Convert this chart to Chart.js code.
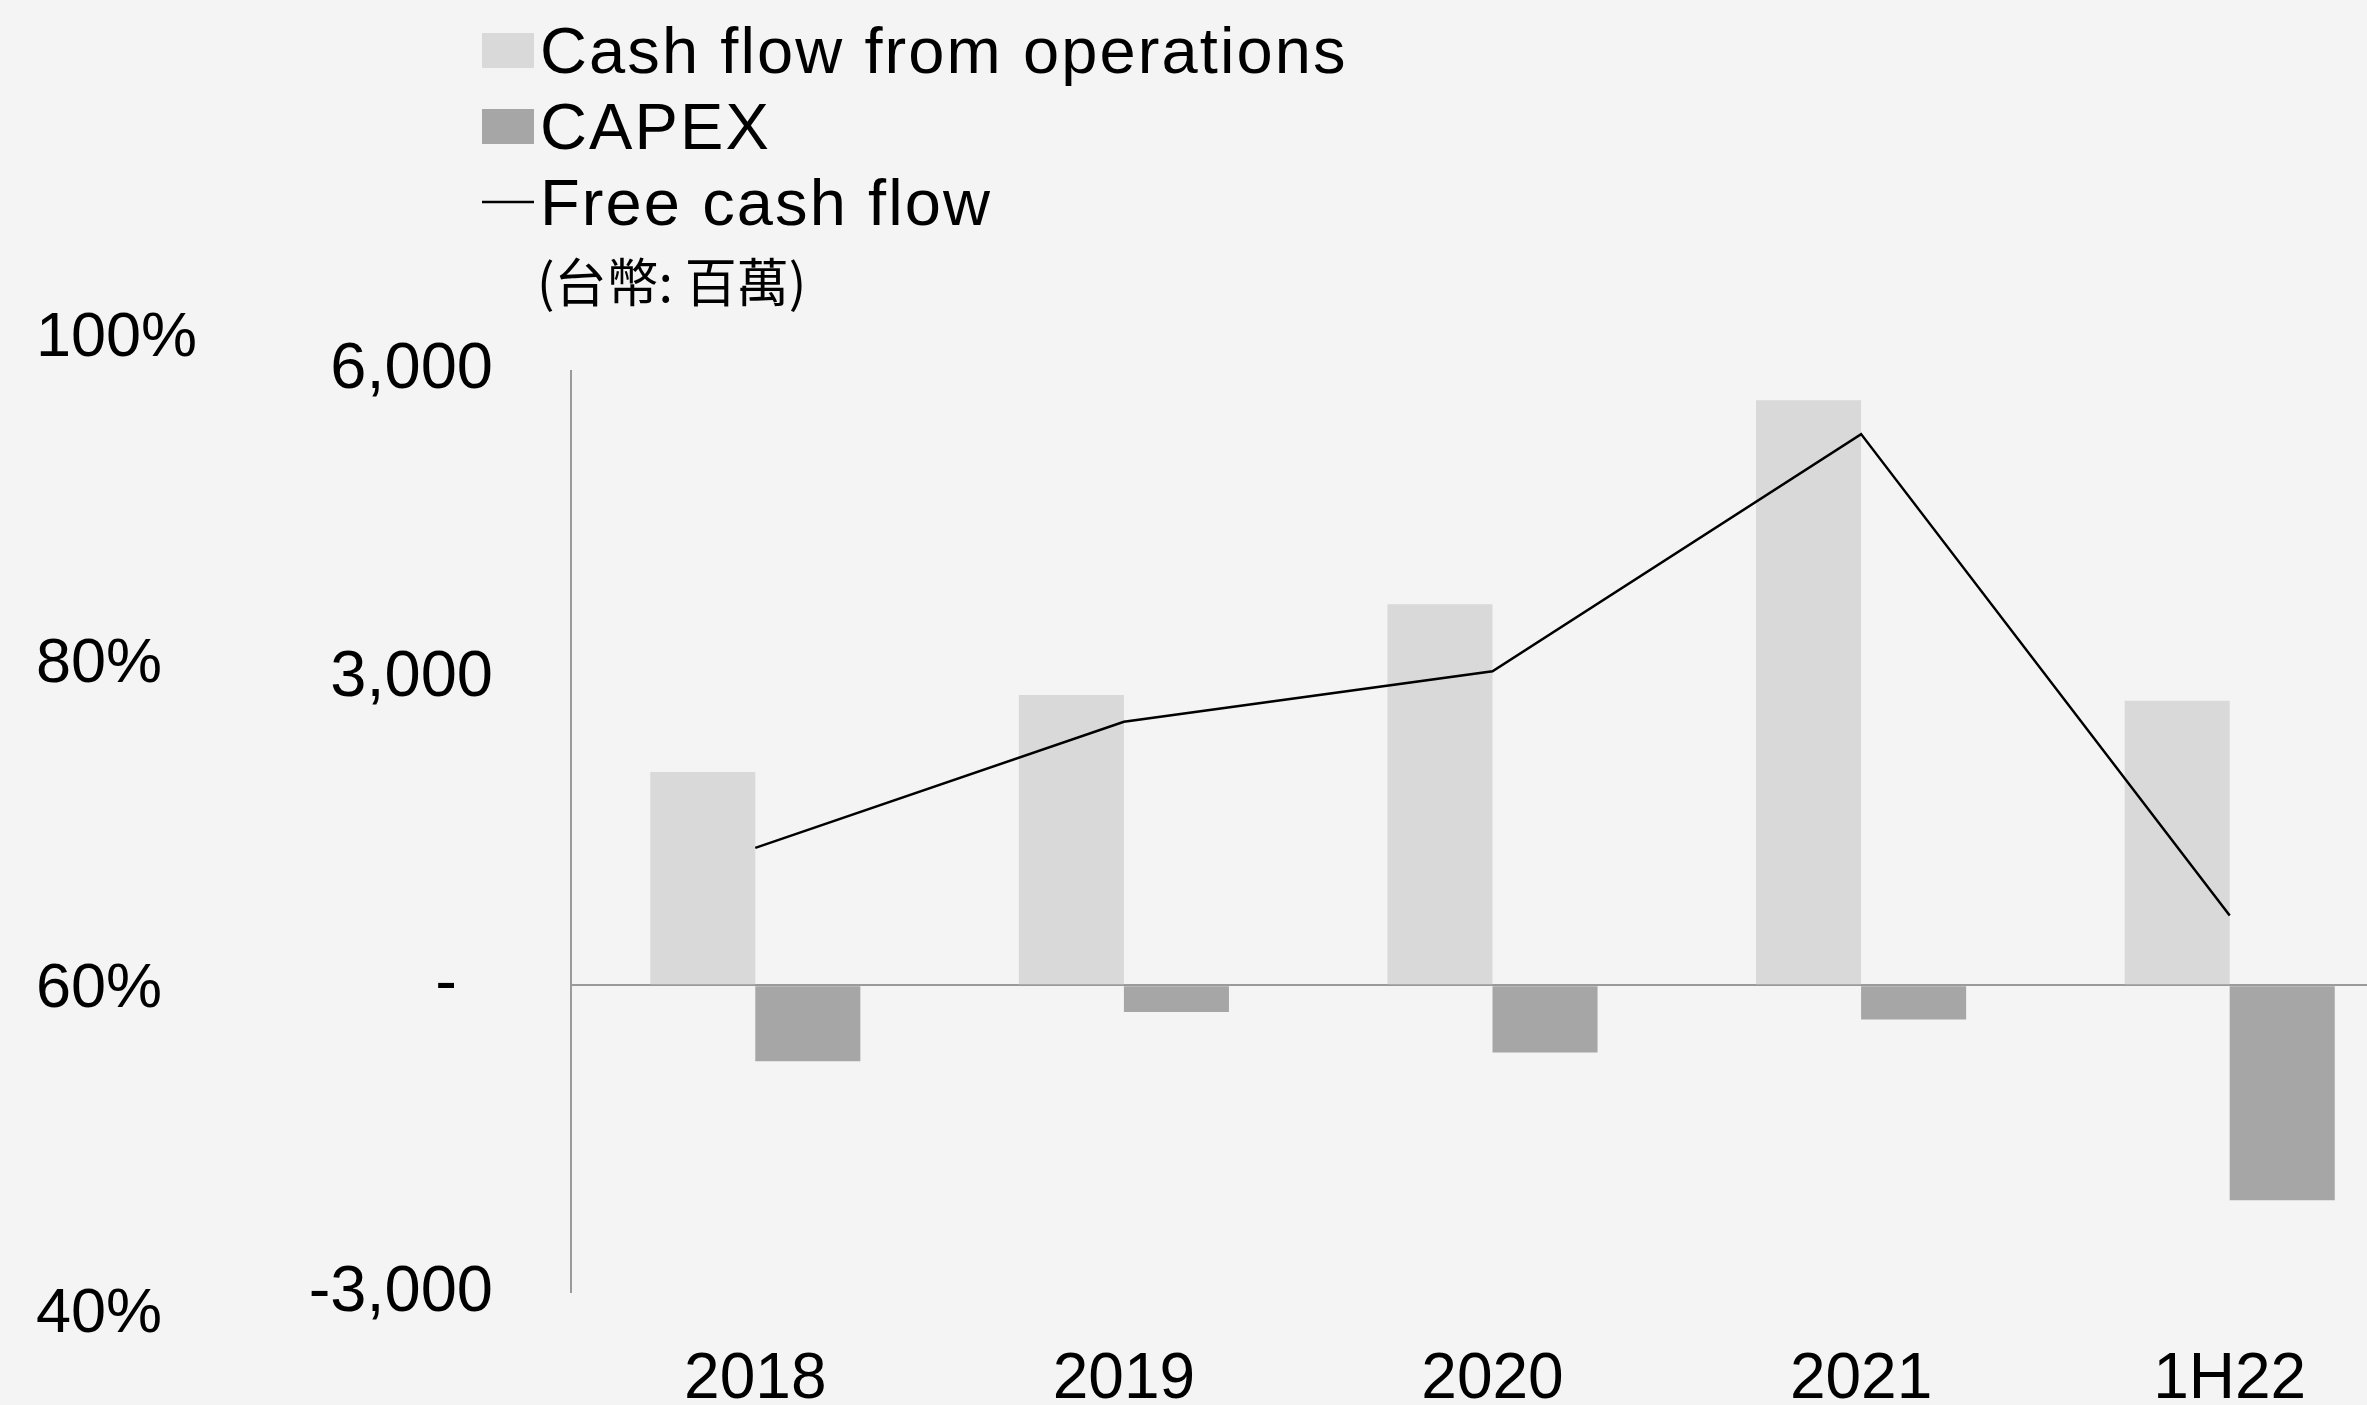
<!DOCTYPE html>
<html>
<head>
<meta charset="utf-8">
<script src="https://cdn.jsdelivr.net/npm/chart.js@4.4.1/dist/chart.umd.min.js"></script>
<style>
html,body{margin:0;padding:0;background:#f4f4f4;overflow:hidden;width:2367px;height:1405px}
#wrap{position:absolute;left:0;top:0;width:2414px;height:1405px}
canvas{display:block}
</style>
</head>
<body>
<div id="wrap"><canvas id="c" width="2414" height="1405"></canvas></div>
<script>
// ---- data ----
const categories = ['2018', '2019', '2020', '2021', '1H22'];
const seriesNames = ['Cash flow from operations', 'CAPEX', 'Free cash flow'];
const cashFlowOps = [2080, 2830, 3715, 5705, 2775];
const capex = [-740, -260, -655, -333, -2095];
const freeCashFlow = [1340, 2570, 3062, 5375, 682];
const yTicks = [-3000, 0, 3000, 6000];
const pctTicks = [40, 60, 80, 100];
const unitLabel = '(台幣: 百萬)';

const FONT = '"Liberation Sans", Arial, sans-serif';
const CJK_FONT = '"Noto Sans CJK TC", "Noto Sans CJK SC", sans-serif';

const overlay = {
  id: 'overlay',
  beforeDraw(chart) {
    const ctx = chart.ctx;
    ctx.save();
    ctx.fillStyle = '#f4f4f4';
    ctx.fillRect(0, 0, chart.width, chart.height);
    ctx.restore();
  },
  afterDatasetsDraw(chart) {
    const ctx = chart.ctx;
    const y = chart.scales.y;
    const x0 = chart.chartArea.left;
    ctx.save();
    ctx.strokeStyle = '#9a9a9a';
    ctx.lineWidth = 2;
    ctx.beginPath();
    ctx.moveTo(x0, y.getPixelForValue(yTicks[yTicks.length - 1]));
    ctx.lineTo(x0, y.getPixelForValue(yTicks[0]));
    ctx.stroke();
    ctx.restore();
  },
  afterDraw(chart) {
    const ctx = chart.ctx;
    const ds = chart.data.datasets;
    ctx.save();
    ds.forEach((d, i) => {
      const boxTop = 33 + 76 * i;
      const baseline = 73 + 76 * i;
      if (d.type === 'line') {
        ctx.strokeStyle = d.borderColor;
        ctx.lineWidth = 2.5;
        ctx.beginPath();
        ctx.moveTo(482, boxTop + 17);
        ctx.lineTo(534, boxTop + 17);
        ctx.stroke();
      } else {
        ctx.fillStyle = d.backgroundColor;
        ctx.fillRect(482, boxTop, 52, 35);
      }
      ctx.fillStyle = '#000';
      ctx.font = '65px ' + FONT;
      ctx.textBaseline = 'alphabetic';
      ctx.textAlign = 'left';
      ctx.letterSpacing = '2.1px';
      ctx.fillText(d.label, 540, baseline);
      ctx.letterSpacing = '0px';
    });
    ctx.font = '52px ' + CJK_FONT;
    ctx.fillStyle = '#000';
    ctx.fillText(unitLabel, 537, 302);
    ctx.restore();
  }
};

function noPad(s) { s.paddingTop = 0; s.paddingBottom = 0; }

new Chart(document.getElementById('c'), {
  type: 'bar',
  data: {
    labels: categories,
    datasets: [
      { label: seriesNames[0], data: cashFlowOps, backgroundColor: '#d9d9d9', order: 1, yAxisID: 'y' },
      { label: seriesNames[1], data: capex, backgroundColor: '#a6a6a6', order: 1, yAxisID: 'y' },
      { type: 'line', label: seriesNames[2], data: freeCashFlow, borderColor: '#000000', backgroundColor: '#000000',
        borderWidth: 2.5, pointRadius: 0, pointHoverRadius: 0, tension: 0, order: 0, yAxisID: 'y' }
    ]
  },
  options: {
    responsive: false,
    animation: false,
    devicePixelRatio: 1,
    layout: { padding: { top: 339, left: 36, right: 0, bottom: 0 } },
    plugins: { legend: { display: false }, tooltip: { enabled: false } },
    datasets: { bar: { categoryPercentage: 0.57, barPercentage: 1 } },
    scales: {
      x: {
        grid: { display: false, drawTicks: false },
        border: { display: false },
        ticks: { font: { family: FONT, size: 64 }, color: '#000', padding: 27, maxRotation: 0 },
        afterFit(s) { s.height = 90; s.paddingLeft = 0; s.paddingRight = 0; }
      },
      y: {
        position: 'left', weight: 0,
        min: -3214.5, max: 6302.3,
        grid: {
          drawTicks: false, lineWidth: 2,
          color: c => (c.tick && c.tick.value === 0) ? '#9a9a9a' : 'rgba(0,0,0,0)'
        },
        border: { display: false },
        ticks: {
          font: { family: FONT, size: 65 }, color: '#000', padding: 78,
          callback: v => v === 0 ? '-  ' : Number(v).toLocaleString('en-US')
        },
        afterBuildTicks(s) { s.ticks = yTicks.map(v => ({ value: v })); },
        afterFit(s) { s.width = 262; noPad(s); }
      },
      y2: {
        position: 'left', weight: 10,
        min: 40, max: 100,
        grid: { display: false, drawTicks: false },
        border: { display: false },
        ticks: {
          font: { family: FONT, size: 63 }, color: '#000', padding: 0, crossAlign: 'far',
          callback: v => v + '%'
        },
        afterBuildTicks(s) { s.ticks = pctTicks.map(v => ({ value: v })); },
        afterFit(s) { s.width = 273; noPad(s); }
      }
    }
  },
  plugins: [overlay]
});
</script>
</body>
</html>
